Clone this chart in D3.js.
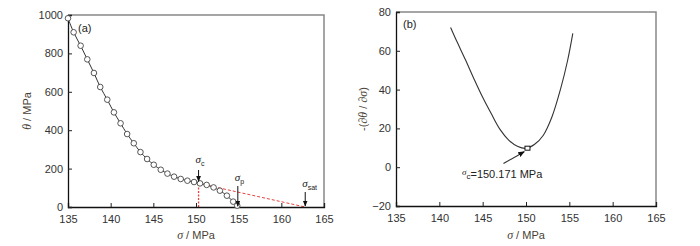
<!DOCTYPE html>
<html>
<head>
<meta charset="utf-8">
<style>
  body { margin: 0; background: #fff; }
  svg { font-family: Arial, "Liberation Sans", sans-serif; }
  .tick text { font-size: 11px; fill: #333; }
  .axtitle { font-size: 11px; fill: #4a3f35; }
</style>
<script src="https://cdn.jsdelivr.net/npm/d3@7"></script>
</head>
<body>
<div id="chart"></div>
<script>
// panel (a): theta vs sigma
var sigmaA = [135, 135.66, 136.48, 137.26, 138.04, 138.78, 139.6, 140.38, 141.16, 141.93, 142.71,
              143.49, 144.27, 145.05, 145.87, 146.65, 147.43, 148.21, 148.99, 149.77, 150.47,
              151.25, 152.06, 152.8, 153.62, 154.36, 154.83];
var thetaA = [983, 910, 840, 769, 698, 625, 559, 493, 436, 380, 332,
              286, 250, 220, 194, 174, 158, 146, 137, 130, 123,
              115, 102, 85, 59, 28, 7];
// panel (b): -(dtheta/dsigma)
var sigmaB = [141.3, 142, 143, 144, 145, 146, 147, 148, 149, 150, 151, 152, 153, 154, 154.8, 155.4];
var dThetaB = [72, 65, 55.5, 45.5, 36, 27.5, 19.5, 14, 10.8, 9.7, 11.8, 16.5, 26, 40.5, 55, 69];

var xTicks = [135, 140, 145, 150, 155, 160, 165];
var yTicksA = [0, 200, 400, 600, 800, 1000];
var yTicksB = [-20, 0, 20, 40, 60, 80];

var sigmaC = 150.3, thetaC = 123, sigmaP = 154.9, sigmaSat = 162.8;
var sigmaCb = 150.17, dThetaCb = 9.8;

var svg = d3.select("#chart").append("svg").attr("width", 700).attr("height", 246);

var defs = svg.append("defs");
defs.append("marker").attr("id", "ah").attr("viewBox", "0 0 10 10")
  .attr("refX", 9).attr("refY", 5).attr("markerWidth", 6).attr("markerHeight", 6)
  .attr("orient", "auto-start-reverse")
  .append("path").attr("d", "M0,1 L10,5 L0,9 z").attr("fill", "#111");

var serif = "Times New Roman, Liberation Serif, serif";

// draws axes + frame, returns the y-title text element
function frame(g, x, y, ticksY, titleYx) {
  var x0 = x.range()[0], x1 = x.range()[1], y0 = y.range()[0], y1 = y.range()[1];
  // top/right border in gray
  g.append("path").attr("d", "M" + x0 + "," + y1 + "H" + x1 + "V" + y0)
    .attr("fill", "none").attr("stroke", "#888").attr("stroke-width", 1.5);
  var ax = g.append("g").attr("transform", "translate(0," + y0 + ")")
    .call(d3.axisBottom(x).tickValues(xTicks).tickFormat(d3.format("d")).tickSize(-4).tickPadding(6));
  var ay = g.append("g").attr("transform", "translate(" + x0 + ",0)")
    .call(d3.axisLeft(y).tickValues(ticksY).tickFormat(d3.format("d")).tickSize(-4).tickPadding(5));
  [ax, ay].forEach(function (a) {
    a.select(".domain").attr("stroke", "#111").attr("stroke-width", 1.3);
    a.selectAll(".tick line").attr("stroke", "#222");
    a.selectAll(".tick text").attr("font-size", null).attr("font-family", null);
  });
  ax.selectAll(".tick text").attr("dy", "0.9em");
  // x title
  var tx = g.append("text").attr("class", "axtitle").attr("x", (x0 + x1) / 2).attr("y", 239)
    .attr("text-anchor", "middle");
  tx.append("tspan").attr("font-style", "italic").attr("font-family", serif).attr("font-size", 12).text("σ");
  tx.append("tspan").text(" / MPa");
  // y title
  return g.append("text").attr("class", "axtitle")
    .attr("transform", "translate(" + titleYx + "," + (y0 + y1) / 2 + ") rotate(-90)")
    .attr("text-anchor", "middle");
}

function sigmaLabel(t, sub, big, small, up) {
  t.append("tspan").attr("font-style", "italic").attr("font-family", serif).attr("font-size", big).text("σ");
  t.append("tspan").attr("font-size", small).attr("dy", up).text(sub);
}

// ---------------- panel (a)
var xa = d3.scaleLinear().domain([135, 165]).range([68, 324]);
var ya = d3.scaleLinear().domain([0, 1000]).range([207, 15]);
var ga = svg.append("g");

// red construction lines
ga.append("line").attr("x1", xa(sigmaC)).attr("x2", xa(sigmaC)).attr("y1", ya(0)).attr("y2", ya(thetaC))
  .attr("stroke", "#e8423f").attr("stroke-width", 1.3).attr("stroke-dasharray", "2,1.5");
ga.append("line").attr("x1", xa(sigmaC)).attr("y1", ya(thetaC)).attr("x2", xa(sigmaSat)).attr("y2", ya(0))
  .attr("stroke", "#e8423f").attr("stroke-width", 1).attr("stroke-dasharray", "3,2");

var tya = frame(ga, xa, ya, yTicksA, 31);
tya.append("tspan").attr("font-style", "italic").attr("font-family", serif).attr("font-size", 12).text("θ");
tya.append("tspan").text(" / MPa");

var lineA = d3.line().x(function (d, i) { return xa(sigmaA[i]); }).y(function (d) { return ya(d); })
  .curve(d3.curveCatmullRom);
ga.append("path").datum(thetaA).attr("d", lineA).attr("fill", "none").attr("stroke", "#333").attr("stroke-width", 1);
ga.selectAll("circle.pt").data(thetaA).enter().append("circle").attr("class", "pt")
  .attr("cx", function (d, i) { return xa(sigmaA[i]); }).attr("cy", function (d) { return ya(d); })
  .attr("r", 2.8).attr("fill", "#fff").attr("stroke", "#444").attr("stroke-width", 0.9);

ga.append("text").attr("x", 78).attr("y", 32).attr("font-size", 11).attr("fill", "#222").text("(a)");

function arrowLabel(g, x, yTop, yBot, sub, labY) {
  g.append("line").attr("x1", x).attr("x2", x).attr("y1", yTop).attr("y2", yBot)
    .attr("stroke", "#111").attr("stroke-width", 1).attr("marker-end", "url(#ah)");
  var t = g.append("text").attr("x", x - 3).attr("y", labY).attr("text-anchor", "start").attr("fill", "#222");
  sigmaLabel(t, sub, 11, 7, 3);
}
arrowLabel(ga, xa(sigmaC), 170, ya(thetaC) - 2, "c", 163);
arrowLabel(ga, xa(sigmaP), 186, ya(4), "p", 181);
arrowLabel(ga, xa(sigmaSat), 192, ya(0) - 1, "sat", 187);

// ---------------- panel (b)
var xb = d3.scaleLinear().domain([135, 165]).range([396, 656]);
var yb = d3.scaleLinear().domain([-20, 80]).range([206, 12]);
var gb = svg.append("g");
var tyb = frame(gb, xb, yb, yTicksB, 367);
tyb.append("tspan").text("-(");
tyb.append("tspan").attr("font-style", "italic").attr("font-family", serif).attr("font-size", 12).text("∂θ");
tyb.append("tspan").text(" / ");
tyb.append("tspan").attr("font-style", "italic").attr("font-family", serif).attr("font-size", 12).text("∂σ");
tyb.append("tspan").text(")");

var lineB = d3.line().x(function (d, i) { return xb(sigmaB[i]); }).y(function (d) { return yb(d); })
  .curve(d3.curveCatmullRom);
gb.append("path").datum(dThetaB).attr("d", lineB).attr("fill", "none").attr("stroke", "#333").attr("stroke-width", 1.1);
gb.append("rect").attr("x", xb(sigmaCb) - 2.5).attr("y", yb(dThetaCb) - 2).attr("width", 5).attr("height", 4)
  .attr("fill", "#fff").attr("stroke", "#111").attr("stroke-width", 1);
gb.append("line").attr("x1", xb(147.4)).attr("y1", yb(1.9)).attr("x2", xb(149.8)).attr("y2", yb(8))
  .attr("stroke", "#333").attr("stroke-width", 1.1).attr("marker-end", "url(#ah)");
gb.append("text").attr("x", 403).attr("y", 28).attr("font-size", 11).attr("fill", "#222").text("(b)");
var tc = gb.append("text").attr("x", 462).attr("y", 178).attr("fill", "#222").attr("font-size", 11);
tc.append("tspan").attr("font-style", "italic").attr("font-family", serif).attr("font-size", 9).attr("dy", -3).text("σ");
tc.append("tspan").attr("font-size", 8).attr("dy", 4).text("c");
tc.append("tspan").attr("dy", -1).text("=150.171 MPa");
</script>
</body>
</html>
